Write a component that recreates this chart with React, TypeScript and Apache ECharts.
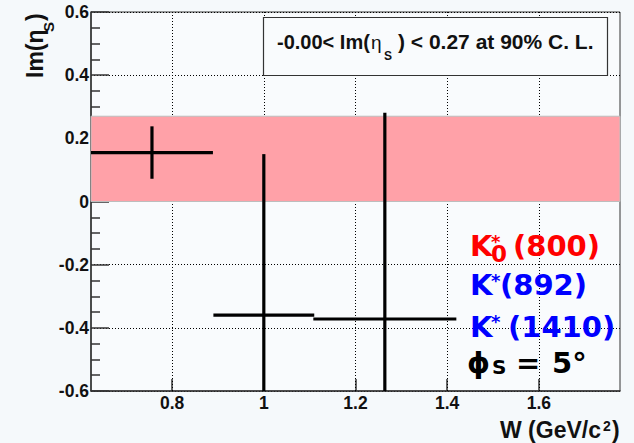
import React, { useEffect, useRef } from 'react';
import * as echarts from 'echarts';

// ---- data ----
const wCenter = [0.756, 1.0, 1.264];
const wHalfWidth = [0.133, 0.11, 0.156];
const imEtaValue = [0.155, -0.36, -0.372];
const imEtaError = [0.083, 0.51, 0.653];

const xMin = 0.623;
const xMax = 1.777;
const yMin = -0.6;
const yMax = 0.6;
const yInterval = 0.2;
const xMajorTicks = [0.8, 1.0, 1.2, 1.4, 1.6];
const xMinorTicks = [0.65, 0.7, 0.75, 0.85, 0.9, 0.95, 1.05, 1.1, 1.15, 1.25, 1.3, 1.35, 1.45, 1.5, 1.55, 1.65, 1.7, 1.75];
const bandLow = 0.0;
const bandHigh = 0.27;

const SANS = 'Liberation Sans';
const DEJAVU = 'DejaVu Sans';

export default function App() {
  const ref = useRef<HTMLDivElement>(null);

  useEffect(() => {
    if (!ref.current) return;
    const chart = echarts.init(ref.current, undefined, { renderer: 'svg' });

    const points = wCenter.map((w, i) => [w, imEtaValue[i], wHalfWidth[i], imEtaError[i]]);
    const axisColor = '#333';

    const txt = (text: string, x: number, y: number, font: string, fill: string, extra: any = {}) => ({
      type: 'text',
      x,
      y,
      z: 20,
      silent: true,
      ...extra,
      style: {
        text,
        font,
        fill,
        align: 'left',
        verticalAlign: 'middle',
        ...(extra.style || {}),
      },
    });

    const option: any = {
      animation: false,
      backgroundColor: '#f5f9fb',
      grid: {
        left: 91,
        right: 14,
        top: 12,
        bottom: 52,
        show: true,
        borderColor: axisColor,
        borderWidth: 1,
        backgroundColor: '#f9fbfd',
      },
      xAxis: [
        {
          type: 'value',
          min: xMin,
          max: xMax,
          axisLine: { show: true, onZero: false, lineStyle: { color: axisColor, width: 1.5 } },
          axisTick: { show: true, inside: true, length: 12, customValues: xMajorTicks, lineStyle: { color: axisColor, width: 1.5 } },
          axisLabel: {
            customValues: xMajorTicks,
            margin: 3,
            color: '#111',
            fontFamily: SANS,
            fontWeight: 'bold',
            fontSize: 17.5,
          },
          splitLine: { show: false },
        },
        {
          type: 'value',
          min: xMin,
          max: xMax,
          position: 'bottom',
          axisLine: { show: false },
          axisTick: { show: true, inside: true, length: 6, customValues: xMinorTicks, lineStyle: { color: axisColor, width: 1.5 } },
          axisLabel: { show: false },
          splitLine: { show: false },
        },
      ],
      yAxis: {
        type: 'value',
        min: yMin,
        max: yMax,
        interval: yInterval,
        axisLine: { show: true, onZero: false, lineStyle: { color: axisColor, width: 1.5 } },
        axisTick: { show: true, inside: true, length: 18, lineStyle: { color: axisColor, width: 1.5 } },
        minorTick: { show: true, splitNumber: 4, length: 9, lineStyle: { color: axisColor, width: 1.5 } },
        axisLabel: {
          margin: 2,
          color: '#111',
          fontFamily: SANS,
          fontWeight: 'bold',
          fontSize: 17.5,
        },
        splitLine: { show: true, lineStyle: { color: '#000', type: [1, 2], width: 1 } },
      },
      series: [
        {
          type: 'line',
          data: [],
          z: 1,
          silent: true,
          markLine: {
            z: 1,
            silent: true,
            symbol: 'none',
            label: { show: false },
            lineStyle: { color: '#000', type: [1, 2], width: 1 },
            data: xMajorTicks.map((v) => ({ xAxis: v })),
          },
        },
        {
          type: 'line',
          data: [],
          z: 2,
          silent: true,
          markArea: {
            z: 2,
            silent: true,
            itemStyle: { color: '#ffa1a8', borderColor: '#bdbdbd', borderWidth: 1 },
            data: [[{ xAxis: xMin, yAxis: bandLow }, { xAxis: xMax, yAxis: bandHigh }]],
          },
        },
        {
          type: 'custom',
          z: 5,
          silent: true,
          clip: false,
          data: points,
          encode: { x: 0, y: 1 },
          renderItem: (params: any, api: any) => {
            const xc = api.value(0);
            const yc = api.value(1);
            const xe = api.value(2);
            const ye = api.value(3);
            const cs = params.coordSys;
            const cx = (v: number) => Math.max(cs.x, Math.min(cs.x + cs.width, v));
            const cy = (v: number) => Math.max(cs.y, Math.min(cs.y + cs.height, v));
            const pL = api.coord([xc - xe, yc]);
            const pR = api.coord([xc + xe, yc]);
            const pT = api.coord([xc, yc + ye]);
            const pB = api.coord([xc, yc - ye]);
            const st = { stroke: '#000', lineWidth: 3.2 };
            return {
              type: 'group',
              children: [
                { type: 'line', shape: { x1: cx(pL[0]), y1: pL[1], x2: cx(pR[0]), y2: pR[1] }, style: st },
                { type: 'line', shape: { x1: pT[0], y1: cy(pT[1]), x2: pB[0], y2: cy(pB[1]) }, style: st },
              ],
            };
          },
        },
      ],
      graphic: [
        // y-axis title (rotated)
        txt('Im(η', 35, 78, `bold 23px ${SANS}`, '#111', { rotation: Math.PI / 2 }),
        txt('S', 48, 32, `bold 15px ${SANS}`, '#111', { rotation: Math.PI / 2 }),
        txt(')', 35, 21, `bold 23px ${SANS}`, '#111', { rotation: Math.PI / 2 }),
        // x-axis title
        txt('W (GeV/c', 500, 430, `bold 23px ${SANS}`, '#111'),
        txt('2', 603, 426, `bold 14px ${SANS}`, '#111'),
        txt(')', 612, 430, `bold 23px ${SANS}`, '#111'),
        // limit box
        {
          type: 'rect',
          z: 15,
          silent: true,
          shape: { x: 263.5, y: 17.5, width: 344, height: 58 },
          style: { fill: '#f9fbfd', stroke: axisColor, lineWidth: 1.2 },
        },
        txt('-0.00< Im(', 277, 41.5, `bold 20px ${SANS}`, '#111'),
        txt('η', 371, 42, `normal 19px ${SANS}`, '#111'),
        txt('S', 384, 56, `bold 12px ${SANS}`, '#111'),
        txt(') < 0.27 at 90% C. L.', 398, 41.5, `bold 21px ${SANS}`, '#111'),
        // resonance labels
        txt('K', 470, 246, `bold 29px ${DEJAVU}`, '#ff0000'),
        txt('*', 491, 241, `bold 18px ${DEJAVU}`, '#ff0000'),
        txt('0', 491, 254, `bold 23px ${DEJAVU}`, '#ff0000'),
        txt('(800)', 513, 246, `bold 29px ${DEJAVU}`, '#ff0000'),
        txt('K', 470, 285, `bold 29px ${DEJAVU}`, '#0000ff'),
        txt('*', 491, 280, `bold 18px ${DEJAVU}`, '#0000ff'),
        txt('(892)', 500, 285, `bold 29px ${DEJAVU}`, '#0000ff'),
        txt('K', 470, 326.5, `bold 29px ${DEJAVU}`, '#0000ff'),
        txt('*', 491, 321, `bold 18px ${DEJAVU}`, '#0000ff'),
        txt('(1410)', 508, 326.5, `bold 29px ${DEJAVU}`, '#0000ff'),
        txt('ϕ', 467, 363, `bold 29px ${DEJAVU}`, '#000'),
        txt('S', 492, 367, `bold 20px ${DEJAVU}`, '#000'),
        txt('=', 516, 363, `bold 29px ${DEJAVU}`, '#000'),
        txt('5°', 552, 363, `bold 29px ${DEJAVU}`, '#000'),
      ],
    };

    chart.setOption(option);
    return () => chart.dispose();
  }, []);

  return (
    <div
      ref={ref}
      style={{ position: 'fixed', left: 0, top: 0, width: 634, height: 443, background: '#f5f9fb' }}
    />
  );
}
